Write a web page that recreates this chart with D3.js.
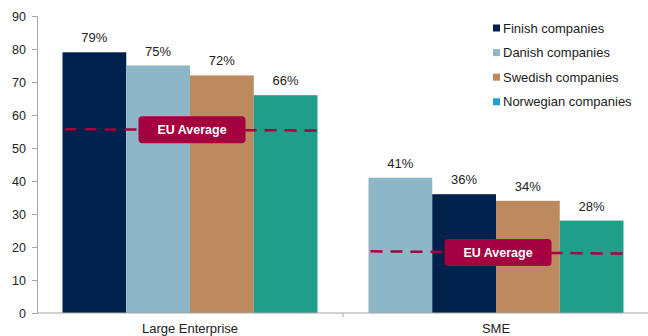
<!DOCTYPE html>
<html>
<head>
<meta charset="utf-8">
<script src="https://cdn.jsdelivr.net/npm/d3@7"></script>
<style>
  html, body { margin: 0; padding: 0; background: #fff; }
  svg { display: block; font-family: "Liberation Sans", Arial, sans-serif; }
</style>
</head>
<body>
<svg id="chart" width="648" height="336"></svg>
<script>
// Share of companies per country, by company size (percent)
const categories = ["Large Enterprise", "SME"];
const seriesNames = ["Finish companies", "Danish companies", "Swedish companies", "Norwegian companies"];
// Bar order within each group (left to right)
const largeOrder = ["Finish companies", "Danish companies", "Swedish companies", "Norwegian companies"];
const smeOrder = ["Danish companies", "Finish companies", "Swedish companies", "Norwegian companies"];
const largeValues = [79, 75, 72, 66];
const smeValues = [41, 36, 34, 28];
// EU average reference line (start, end) per group
const euLarge = [55.7, 55.3];
const euSme = [18.7, 18.0];
const yTicks = [0, 10, 20, 30, 40, 50, 60, 70, 80, 90];

const barColors = {
  "Finish companies": "#00214B",
  "Danish companies": "#8DB6C6",
  "Swedish companies": "#BC8A5E",
  "Norwegian companies": "#1F9E89"
};
const legendColors = {
  "Finish companies": "#00214B",
  "Danish companies": "#8DB6C6",
  "Swedish companies": "#BC8A5E",
  "Norwegian companies": "#1BA1D6"
};
const euColor = "#A50040";
const axisColor = "#A6A6A6";

const svg = d3.select("#chart");
const margin = { left: 37, right: 0, top: 16, bottom: 23 };
const W = 648, H = 336;

const y = d3.scaleLinear().domain([0, 90]).range([313, 16]);
const x0 = d3.scaleBand().domain(categories).range([37, 649]).paddingInner(0).paddingOuter(0);
const groupPad = 25.5;
const x1 = d3.scaleBand().domain([0, 1, 2, 3])
  .range([groupPad, x0.bandwidth() - groupPad]).padding(0);

const groups = [
  { cat: "Large Enterprise", order: largeOrder, values: largeValues, eu: euLarge },
  { cat: "SME", order: smeOrder, values: smeValues, eu: euSme }
];

// Bars
groups.forEach(g => {
  const gx = x0(g.cat);
  const sel = svg.append("g").attr("transform", `translate(${gx},0)`);
  sel.selectAll("rect").data(g.values).join("rect")
    .attr("x", (d, i) => x1(i))
    .attr("y", d => y(d))
    .attr("width", x1.bandwidth())
    .attr("height", d => y(0) - y(d))
    .attr("fill", (d, i) => barColors[g.order[i]]);
  sel.selectAll("text.val").data(g.values).join("text")
    .attr("class", "val")
    .attr("x", (d, i) => x1(i) + x1.bandwidth() / 2)
    .attr("y", d => y(d) - 10)
    .attr("text-anchor", "middle")
    .attr("font-size", 13)
    .attr("fill", "#222")
    .text(d => d + "%");
});

// Y axis
const yAxis = d3.axisLeft(y).tickValues(yTicks).tickSize(5).tickPadding(6);
const ya = svg.append("g").attr("transform", "translate(37,0)").call(yAxis);
ya.select(".domain").attr("stroke", axisColor);
ya.selectAll(".tick line").attr("stroke", axisColor);
ya.selectAll(".tick text").attr("font-size", 12.5).attr("fill", "#222")
  .attr("font-family", "Liberation Sans, Arial, sans-serif");

// X axis
const xa = svg.append("g").attr("transform", "translate(0,313)");
xa.append("line").attr("x1", 37).attr("x2", 648).attr("y1", 0).attr("y2", 0)
  .attr("stroke", axisColor).attr("stroke-width", 1.2);
xa.append("line").attr("x1", x0("SME")).attr("x2", x0("SME")).attr("y1", 0).attr("y2", 4)
  .attr("stroke", axisColor);
xa.selectAll("text").data(categories).join("text")
  .attr("x", d => x0(d) + x0.bandwidth() / 2)
  .attr("y", 20)
  .attr("text-anchor", "middle")
  .attr("font-size", 13)
  .attr("fill", "#222")
  .text(d => d);

// EU average reference lines with labels
groups.forEach(g => {
  const gx = x0(g.cat);
  const xs = gx + x1(0) + 2;
  const xe = gx + x1(3) + x1.bandwidth();
  svg.append("line")
    .attr("x1", xs).attr("x2", xe)
    .attr("y1", y(g.eu[0])).attr("y2", y(g.eu[1]))
    .attr("stroke", euColor).attr("stroke-width", 2.5)
    .attr("stroke-dasharray", "12,8");
  const cx = (xs + xe) / 2 + 1;
  const cy = (y(g.eu[0]) + y(g.eu[1])) / 2;
  const bw = 107, bh = 27;
  svg.append("rect")
    .attr("x", cx - bw / 2).attr("y", cy - bh / 2)
    .attr("width", bw).attr("height", bh)
    .attr("rx", 4).attr("ry", 4)
    .attr("fill", euColor);
  svg.append("text")
    .attr("x", cx).attr("y", cy + 4.5)
    .attr("text-anchor", "middle")
    .attr("font-size", 12.5)
    .attr("font-weight", "bold")
    .attr("fill", "#fff")
    .text("EU Average");
});

// Legend
const legend = svg.append("g").attr("transform", "translate(493,28)");
const li = legend.selectAll("g").data(seriesNames).join("g")
  .attr("transform", (d, i) => `translate(0,${i * 24.6})`);
li.append("rect").attr("x", 0).attr("y", -3.5).attr("width", 7).attr("height", 7)
  .attr("fill", d => legendColors[d]);
li.append("text").attr("x", 10).attr("y", 4.5)
  .attr("font-size", 13).attr("fill", "#222").text(d => d);
</script>
</body>
</html>
